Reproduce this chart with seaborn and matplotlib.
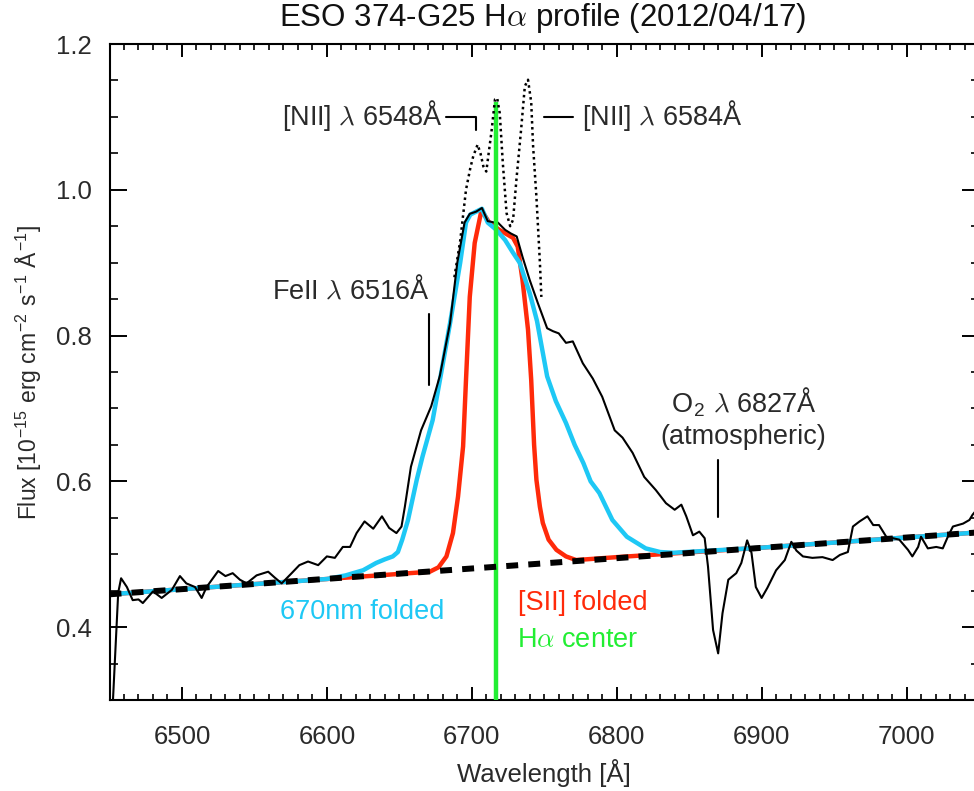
import numpy as np
import pandas as pd
import matplotlib
matplotlib.use("Agg")
import matplotlib.pyplot as plt
from matplotlib.ticker import MultipleLocator, FormatStrFormatter
import seaborn as sns

# ---------------- data ----------------
wl_cont = [6450, 7050]
fl_cont = [0.445, 0.530]

wl_blue = [6450, 6500, 6550, 6600, 6613, 6625, 6634, 6640, 6645.5, 6649, 6652, 6656, 6662,
           6666, 6673, 6678, 6685, 6692, 6696, 6699, 6703, 6707, 6711, 6717, 6723, 6728,
           6733, 6740, 6745, 6752, 6758, 6765, 6771, 6777, 6782, 6788, 6797, 6807, 6820,
           6830, 6839, 6900, 7000, 7050]
fl_blue = [0.445, 0.452, 0.459, 0.466, 0.471, 0.478, 0.488, 0.493, 0.497, 0.503, 0.52, 0.547,
           0.602, 0.634, 0.684, 0.739, 0.817, 0.900, 0.955, 0.966, 0.970, 0.974, 0.955, 0.945,
           0.931, 0.915, 0.900, 0.858, 0.820, 0.744, 0.710, 0.680, 0.650, 0.625, 0.600, 0.584,
           0.547, 0.524, 0.508, 0.503, 0.502, 0.509, 0.523, 0.530]

wl_red = [6450, 6550, 6650, 6671, 6677, 6682.5, 6687, 6690.5, 6694, 6696, 6698.6, 6702,
          6706.7, 6712, 6719, 6728.5, 6731.7, 6735, 6738.8, 6741, 6743, 6744.6, 6747, 6749,
          6753, 6758.4, 6765, 6772, 6800, 6900, 7050]
fl_red = [0.445, 0.459, 0.473, 0.476, 0.482, 0.497, 0.529, 0.579, 0.648, 0.739, 0.853, 0.927,
          0.972, 0.955, 0.945, 0.934, 0.922, 0.876, 0.808, 0.739, 0.650, 0.602, 0.565, 0.543,
          0.520, 0.506, 0.497, 0.492, 0.496, 0.509, 0.530]

wl_obs = [6451.5, 6452.4, 6456, 6458, 6462, 6466, 6470, 6473, 6480, 6486, 6493, 6498.6, 6503,
          6509, 6513.6, 6517, 6525, 6530, 6535, 6540, 6544.6, 6551.5, 6559.5, 6564, 6568.8,
          6575.7, 6581, 6587, 6594, 6600, 6605.5, 6611, 6616, 6620.5, 6626, 6632, 6638, 6643,
          6648, 6651.5, 6653.8, 6658, 6665, 6672, 6678, 6685, 6690, 6695, 6698.6, 6703, 6707,
          6711, 6716, 6718, 6723, 6727, 6731, 6735, 6740, 6745.5, 6752, 6756, 6760, 6765,
          6769.7, 6776.6, 6783.5, 6790, 6798.6, 6804, 6811, 6819, 6827, 6834, 6840, 6844.6,
          6848, 6852.6, 6857, 6860.7, 6863, 6866.5, 6870, 6873, 6877, 6882.5, 6886, 6890,
          6893, 6896, 6900, 6904, 6910, 6916, 6920.5, 6924, 6928.5, 6935, 6942, 6949, 6954,
          6959.5, 6963, 6967.6, 6973, 6977, 6981, 6986, 6990.6, 6995, 7001, 7004, 7008, 7010,
          7014.7, 7020.5, 7025, 7028.5, 7032, 7039, 7043.4, 7045.5, 7050]
fl_obs = [0.280, 0.300, 0.447, 0.467, 0.455, 0.437, 0.438, 0.433, 0.449, 0.440, 0.451, 0.470,
          0.460, 0.455, 0.440, 0.455, 0.477, 0.470, 0.474, 0.465, 0.460, 0.471, 0.476, 0.468,
          0.460, 0.474, 0.485, 0.490, 0.485, 0.497, 0.495, 0.510, 0.510, 0.529, 0.545, 0.535,
          0.552, 0.536, 0.529, 0.538, 0.565, 0.620, 0.670, 0.703, 0.745, 0.817, 0.900, 0.955,
          0.967, 0.970, 0.975, 0.957, 0.955, 0.955, 0.945, 0.940, 0.936, 0.908, 0.876, 0.845,
          0.810, 0.806, 0.803, 0.790, 0.792, 0.762, 0.741, 0.716, 0.670, 0.660, 0.639, 0.606,
          0.588, 0.570, 0.561, 0.568, 0.552, 0.526, 0.531, 0.522, 0.483, 0.396, 0.364, 0.419,
          0.465, 0.474, 0.488, 0.519, 0.502, 0.455, 0.440, 0.454, 0.478, 0.492, 0.517, 0.505,
          0.497, 0.495, 0.496, 0.492, 0.499, 0.503, 0.538, 0.545, 0.552, 0.540, 0.540, 0.524,
          0.522, 0.520, 0.506, 0.497, 0.510, 0.524, 0.508, 0.510, 0.508, 0.524, 0.538, 0.542,
          0.547, 0.554, 0.565]

wl_nii = [6688, 6692, 6696, 6699, 6701, 6704, 6706, 6708, 6710, 6713.6, 6716, 6717.5, 6719.3,
          6721.4, 6724, 6726.5, 6728.5, 6730.8, 6734, 6736.6, 6738.8, 6741, 6742.3, 6744.6,
          6747, 6748]
fl_nii = [0.880, 0.930, 1.000, 1.030, 1.046, 1.062, 1.050, 1.032, 1.025, 1.080, 1.124, 1.126,
          1.105, 1.037, 0.968, 0.950, 0.959, 1.014, 1.082, 1.142, 1.151, 1.120, 1.060, 0.990,
          0.900, 0.853]

ha_center = 6717.0
ha_top = 1.121

# ---------------- style ----------------
sns.set_theme(style="ticks")
plt.rcParams["font.family"] = ["Liberation Sans", "DejaVu Sans"]
plt.rcParams["mathtext.fontset"] = "cm"
plt.rcParams["axes.linewidth"] = 1.5

C_BLUE = "#1ec8f5"
C_RED = "#ff2a0a"
C_GREEN = "#22ee33"
C_TXT = "#2a2a2a"
FS = 19.5

fig = plt.figure(figsize=(9.74, 7.91), dpi=100)
ax = fig.add_axes([109.5 / 974, 91 / 791, (979 - 109.5) / 974, (700 - 44) / 791])

df_blue = pd.DataFrame({"wl": wl_blue, "flux": fl_blue})
df_red = pd.DataFrame({"wl": wl_red, "flux": fl_red})
df_obs = pd.DataFrame({"wl": wl_obs, "flux": fl_obs})
df_nii = pd.DataFrame({"wl": wl_nii, "flux": fl_nii})
df_cont = pd.DataFrame({"wl": wl_cont, "flux": fl_cont})

sns.lineplot(data=df_red, x="wl", y="flux", ax=ax, color=C_RED, lw=3.2, zorder=2)
sns.lineplot(data=df_blue, x="wl", y="flux", ax=ax, color=C_BLUE, lw=3.2, zorder=3)
sns.lineplot(data=df_obs, x="wl", y="flux", ax=ax, color="black", lw=1.5, zorder=4)
ax.vlines(ha_center, 0.3, ha_top, color=C_GREEN, lw=3.2, zorder=5)
sns.lineplot(data=df_cont, x="wl", y="flux", ax=ax, color="black", lw=4.3,
             linestyle=(0, (2.0, 1.7)), zorder=6)
sns.lineplot(data=df_nii, x="wl", y="flux", ax=ax, color="black", lw=1.8,
             linestyle=(0, (1.0, 1.4)), zorder=7)

ax.set_xlim(6450, 7050)
ax.set_ylim(0.3, 1.2)
ax.xaxis.set_major_locator(MultipleLocator(100))
ax.xaxis.set_minor_locator(MultipleLocator(10))
ax.yaxis.set_major_locator(MultipleLocator(0.2))
ax.yaxis.set_minor_locator(MultipleLocator(0.05))
ax.yaxis.set_major_formatter(FormatStrFormatter("%.1f"))
ax.tick_params(axis="both", which="both", direction="in", top=True, right=True,
               colors="black", labelcolor=C_TXT, labelsize=18.5)
ax.tick_params(axis="x", which="major", length=9.5, width=1.4, pad=18)
ax.tick_params(axis="x", which="minor", length=4.5, width=1.2)
ax.tick_params(axis="y", which="major", length=12, width=1.4, pad=13)
ax.tick_params(axis="y", which="minor", length=6, width=1.2)
for s in ax.spines.values():
    s.set_color("black")

ax.set_xlabel("Wavelength [Å]", fontsize=18.5, color=C_TXT, labelpad=7)
ax.set_ylabel(r"Flux [10$^{\mathregular{-15}}$ erg cm$^{\mathregular{-2}}$ s$^{\mathregular{-1}}$ Å$^{\mathregular{-1}}$]",
              fontsize=16.5, color=C_TXT, labelpad=9)

fig.text(543 / 974, 1 - 18 / 791, r"ESO 374-G25 H$\alpha$ profile (2012/04/17)",
         ha="center", va="center", fontsize=22.5, color="#111111")

# ---------------- annotations ----------------
ax.text(6680, 1.102, r"[NII] $\lambda$ 6548Å", ha="right", va="center", fontsize=FS,
        color=C_TXT)
ax.plot([6682, 6702.6, 6702.6], [1.10, 1.10, 1.082], color="black", lw=1.5)
ax.plot([6750, 6769.5], [1.10, 1.10], color="black", lw=1.5)
ax.text(6776, 1.102, r"[NII] $\lambda$ 6584Å", ha="left", va="center", fontsize=FS,
        color=C_TXT)

ax.text(6670.6, 0.862, r"FeII $\lambda$ 6516Å", ha="right", va="center", fontsize=FS,
        color=C_TXT)
ax.plot([6670.6, 6670.6], [0.83, 0.732], color="black", lw=1.5)

ax.text(6887.6, 0.709, r"O$_\mathregular{2}$ $\lambda$ 6827Å", ha="center",
        va="center", fontsize=FS, color=C_TXT)
ax.text(6887.6, 0.661, "(atmospheric)", ha="center", va="center", fontsize=FS,
        color=C_TXT)
ax.plot([6869.9, 6869.9], [0.629, 0.551], color="black", lw=1.5)

ax.text(6567.6, 0.421, "670nm folded", ha="left", va="center", fontsize=FS, color=C_BLUE)
ax.text(6732, 0.433, "[SII] folded", ha="left", va="center", fontsize=FS, color=C_RED)
ax.text(6731, 0.382, r"H$\alpha$ center", ha="left", va="center", fontsize=FS,
        color=C_GREEN)

fig.savefig("out.png", dpi=100)
